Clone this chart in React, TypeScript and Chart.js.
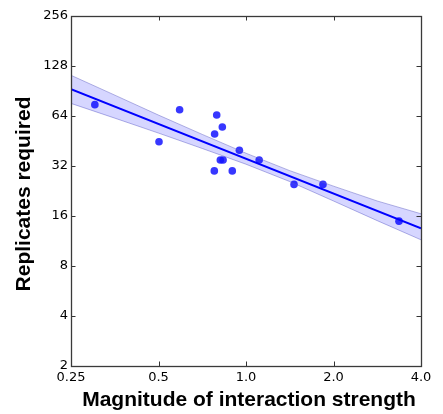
import React, { useEffect, useRef } from "react";
import { Chart, registerables } from "chart.js";
Chart.register(...registerables);

const pointX = [0.302, 0.502, 0.591, 0.793, 0.829, 0.780, 0.949, 0.816, 0.834, 1.11, 0.778, 0.897, 1.463, 1.84, 3.36];
const pointY = [74.9, 44.8, 69.8, 64.9, 55.0, 49.9, 39.8, 34.8, 34.8, 34.8, 29.9, 29.9, 24.8, 24.8, 14.9];
const fitX = [0.25, 4.0];
const fitY = [92.7, 13.5];
const bandX = [0.25, 0.354, 0.5, 0.707, 1.0, 1.414, 2.0, 2.828, 4.0];
const bandUpper = [112.5, 85.4, 64.8, 49.6, 38.2, 30.0, 24.2, 19.7, 16.5];
const bandLower = [76.2, 62.1, 50.5, 40.8, 32.8, 25.8, 19.7, 15.0, 11.5];
const xTicks = [0.25, 0.5, 1, 2, 4];
const xTickLabels = ["0.25", "0.5", "1.0", "2.0", "4.0"];
const yTicks = [2, 4, 8, 16, 32, 64, 128, 256];
const yTickLabels = ["2", "4", "8", "16", "32", "64", "128", "256"];
const xTitle = "Magnitude of interaction strength";
const yTitle = "Replicates required";

const framePlugin = {
  id: "frame",
  afterDatasetsDraw(chart: any) {
    const { ctx, chartArea } = chart;
    const { left, right, top, bottom } = chartArea;
    const xs = chart.scales.x;
    const ys = chart.scales.y;
    ctx.save();
    ctx.strokeStyle = "#333";
    ctx.lineWidth = 1;
    const L = 4.5;
    ctx.beginPath();
    xTicks.forEach((v) => {
      const px = Math.round(xs.getPixelForValue(v)) + 0.5;
      ctx.moveTo(px, bottom);
      ctx.lineTo(px, bottom - L);
      ctx.moveTo(px, top);
      ctx.lineTo(px, top + L);
    });
    yTicks.forEach((v) => {
      const py = Math.round(ys.getPixelForValue(v)) + 0.5;
      ctx.moveTo(left, py);
      ctx.lineTo(left + L, py);
      ctx.moveTo(right, py);
      ctx.lineTo(right - L, py);
    });
    ctx.stroke();
    ctx.strokeStyle = "#3a3a3a";
    ctx.lineWidth = 1.3;
    ctx.strokeRect(left + 0.5, top + 0.5, right - left, bottom - top);
    ctx.restore();

    ctx.save();
    ctx.fillStyle = "#000";
    ctx.font = "bold 21px 'Liberation Sans', Arial, sans-serif";
    ctx.textAlign = "center";
    ctx.textBaseline = "alphabetic";
    ctx.fillText(xTitle, 249, 406);
    ctx.translate(30, 194);
    ctx.rotate(-Math.PI / 2);
    ctx.fillText(yTitle, 0, 0);
    ctx.restore();
  },
};

export default function App() {
  const ref = useRef<HTMLCanvasElement | null>(null);
  useEffect(() => {
    if (!ref.current) return;
    const chart = new Chart(ref.current, {
      type: "line",
      data: {
        datasets: [
          {
            data: bandX.map((x, i) => ({ x, y: bandUpper[i] })),
            borderColor: "rgba(90,90,190,0.45)",
            borderWidth: 1,
            backgroundColor: "rgba(0,0,255,0.16)",
            pointRadius: 0,
            fill: "+1",
            tension: 0,
          },
          {
            data: bandX.map((x, i) => ({ x, y: bandLower[i] })),
            borderColor: "rgba(90,90,190,0.45)",
            borderWidth: 1,
            backgroundColor: "rgba(0,0,255,0.16)",
            pointRadius: 0,
            fill: false,
            tension: 0,
          },
          {
            data: fitX.map((x, i) => ({ x, y: fitY[i] })),
            borderColor: "#0000ff",
            borderWidth: 2,
            pointRadius: 0,
            fill: false,
          },
          {
            data: pointX.map((x, i) => ({ x, y: pointY[i] })),
            showLine: false,
            pointRadius: 3.8,
            pointBackgroundColor: "rgba(20,20,255,0.85)",
            pointBorderWidth: 0,
            borderColor: "rgba(0,0,0,0)",
          },
        ],
      },
      options: {
        animation: false,
        responsive: false,
        events: [],
        layout: { padding: { top: 16, right: 22, left: 0, bottom: 0 } },
        plugins: { legend: { display: false }, tooltip: { enabled: false } },
        scales: {
          x: {
            type: "logarithmic",
            min: 0.25,
            max: 4,
            afterBuildTicks: (axis: any) => {
              axis.ticks = xTicks.map((v) => ({ value: v }));
            },
            afterFit: (axis: any) => {
              axis.height = 48;
            },
            grid: { display: false, drawTicks: false },
            border: { display: false },
            ticks: {
              autoSkip: false,
              maxRotation: 0,
              padding: 4,
              color: "#000",
              font: { family: "'DejaVu Sans'", size: 13 },
              callback: (_v: any, i: number) => xTickLabels[i],
            },
          },
          y: {
            type: "logarithmic",
            min: 2,
            max: 256,
            afterBuildTicks: (axis: any) => {
              axis.ticks = yTicks.map((v) => ({ value: v }));
            },
            afterFit: (axis: any) => {
              axis.width = 71;
            },
            grid: { display: false, drawTicks: false },
            border: { display: false },
            ticks: {
              autoSkip: false,
              padding: 3,
              color: "#000",
              font: { family: "'DejaVu Sans'", size: 13 },
              callback: (_v: any, i: number) => yTickLabels[i],
            },
          },
        },
      },
      plugins: [framePlugin],
    });
    return () => chart.destroy();
  }, []);
  return (
    <div style={{ position: "fixed", left: 0, top: 0, width: 443, height: 414, background: "#fff" }}>
      <canvas ref={ref} width={443} height={414} style={{ width: 443, height: 414 }} />
    </div>
  );
}
